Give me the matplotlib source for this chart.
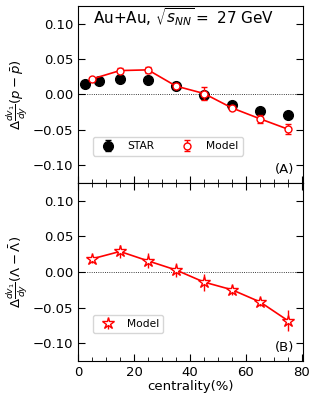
import numpy as np
import matplotlib
matplotlib.use("Agg")
import matplotlib.pyplot as plt
from matplotlib.ticker import MultipleLocator

# ---------------- DATA ----------------
star_cent = [2.5, 7.5, 15, 25, 35, 45, 55, 65, 75]
star_dv1 = [0.0152, 0.0195, 0.0224, 0.0200, 0.0124, -0.0010, -0.0148, -0.0229, -0.0286]
star_err = [0.002, 0.002, 0.002, 0.002, 0.002, 0.005, 0.002, 0.002, 0.002]

model_cent = [5, 15, 25, 35, 45, 55, 65, 75]
model_p = [0.0219, 0.0338, 0.0348, 0.0119, 0.0014, -0.0190, -0.0343, -0.0490]
model_p_err = [0.002, 0.003, 0.0045, 0.003, 0.009, 0.003, 0.0055, 0.007]

model_lam = [0.0184, 0.0288, 0.0156, 0.0028, -0.0142, -0.0250, -0.0420, -0.0684]
model_lam_err = [0.0057, 0.0085, 0.0104, 0.0097, 0.012, 0.0073, 0.0054, 0.015]

# ---------------- PLOT ----------------
fig = plt.figure(figsize=(3.19, 4.01), dpi=100)
ax1 = fig.add_axes([0.2445, 0.5437, 0.7065, 0.4413])
ax2 = fig.add_axes([0.2445, 0.0998, 0.7065, 0.4439], sharex=ax1)

ax1.errorbar(star_cent, star_dv1, yerr=star_err, fmt='o', color='black',
             ms=7, capsize=2, elinewidth=1, label='STAR', zorder=3)
ax1.plot(model_cent, model_p, '-', color='red', lw=1.2, zorder=4)
ax1.errorbar(model_cent, model_p, yerr=model_p_err, fmt='o', color='red',
             mfc='white', mec='red', ms=5, capsize=2, elinewidth=1,
             label='Model', zorder=5)

ax2.plot(model_cent, model_lam, '-', color='red', lw=1.2, zorder=4)
ax2.errorbar(model_cent, model_lam, yerr=model_lam_err, fmt='*', color='red',
             mfc='white', mec='red', ms=9, capsize=0, elinewidth=1,
             label='Model', zorder=5)

for ax in (ax1, ax2):
    ax.axhline(0, color='black', ls=':', lw=0.6, zorder=1)
    ax.set_ylim(-0.125, 0.125)
    ax.set_xlim(0, 80.5)
    ax.yaxis.set_major_locator(MultipleLocator(0.05))
    ax.xaxis.set_major_locator(MultipleLocator(20))
    ax.xaxis.set_minor_locator(MultipleLocator(5))
    ax.tick_params(axis='both', which='major', direction='in', length=5,
                   labelsize=9.5, right=True)
    ax.tick_params(axis='x', which='minor', direction='in', length=3)
    ax.legend(loc='lower left', bbox_to_anchor=(0.065, 0.155), borderaxespad=0,
              ncol=2, fontsize=7.7, columnspacing=2.1)

ax1.tick_params(axis='x', which='both', labelbottom=False)
ax2.tick_params(axis='x', which='both', top=True)

ax1.set_ylabel(r'$\Delta\frac{dv_1}{dy}(p-\bar{p})$', fontsize=9.5, labelpad=2)
ax2.set_ylabel(r'$\Delta\frac{dv_1}{dy}(\Lambda-\bar{\Lambda})$', fontsize=9.5, labelpad=2)
ax2.set_xlabel('centrality(%)', fontsize=9.5, labelpad=1)

ax1.text(0.068, 0.935, r'Au+Au, $\sqrt{s_{NN}}=$ 27 GeV', transform=ax1.transAxes,
         fontsize=11, va='center', ha='left')
ax1.text(0.96, 0.077, '(A)', transform=ax1.transAxes, fontsize=9.5,
         va='center', ha='right')
ax2.text(0.96, 0.077, '(B)', transform=ax2.transAxes, fontsize=9.5,
         va='center', ha='right')

fig.savefig('out.png', dpi=100)
